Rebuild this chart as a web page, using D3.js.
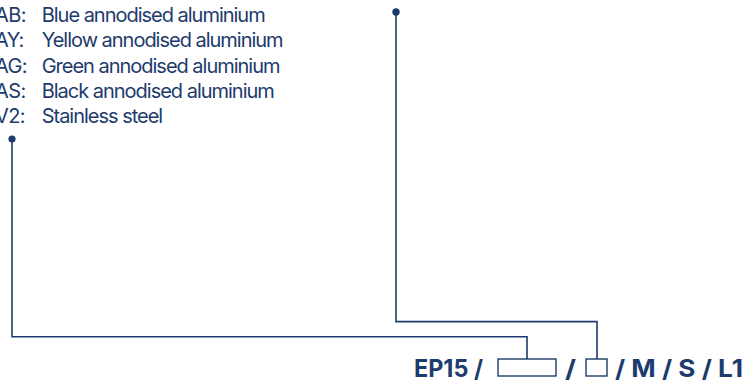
<!DOCTYPE html>
<html>
<head>
<meta charset="utf-8">
<script src="https://cdn.jsdelivr.net/npm/d3@7"></script>
<style>
  html, body { margin: 0; padding: 0; background: #fff; overflow: hidden; }
  svg { display: block; }
</style>
</head>
<body>
<svg id="chart" width="745" height="382"></svg>
<script>
// ---- data ----
const codes = ["AB:", "AY:", "AG:", "AS:", "V2:"];
const descriptions = [
  "Blue annodised aluminium",
  "Yellow annodised aluminium",
  "Green annodised aluminium",
  "Black annodised aluminium",
  "Stainless steel"
];
const codeParts = ["EP15 /", "/", "/ M / S / L1"];

// ---- layout ----
const W = 745, H = 382;
const navy = "#1d3b6c";
const svg = d3.select("#chart");

// rows (baselines) via a point scale
const y = d3.scalePoint().domain(codes).range([21.7, 123.3]);

const legend = svg.append("g").attr("font-family", "Inter, 'Noto Sans', sans-serif")
  .attr("font-size", 20).attr("fill", navy);

legend.selectAll("text.code").data(codes).join("text")
  .attr("class", "code")
  .attr("x", -5).attr("y", d => y(d))
  .attr("letter-spacing", -0.6)
  .text(d => d);

const desc = legend.selectAll("text.desc").data(descriptions).join("text")
  .attr("class", "desc")
  .attr("x", 41.7).attr("y", (d, i) => y(codes[i]))
  .text(d => d);

// tighten letter spacing to match the reference width of first row
const first = desc.node();
const natural = first.getComputedTextLength();
const target = 224;
const ls = (target - natural) / (descriptions[0].length - 1);
desc.attr("letter-spacing", ls);

// ---- connectors ----
const line = d3.line();
const g = svg.append("g").attr("fill", "none").attr("stroke", navy).attr("stroke-width", 1.6);

g.append("path").attr("d", line([[12, 139], [12, 336.7], [527, 336.7], [527, 359]]));
g.append("path").attr("d", line([[396, 12], [396, 321.6], [597, 321.6], [597, 359]]));

svg.append("circle").attr("cx", 12).attr("cy", 139).attr("r", 3.6).attr("fill", navy);
svg.append("circle").attr("cx", 396).attr("cy", 12).attr("r", 3.7).attr("fill", navy);

// boxes
g.append("rect").attr("x", 498).attr("y", 359).attr("width", 58).attr("height", 17).attr("stroke-width", 1.4);
g.append("rect").attr("x", 586).attr("y", 359).attr("width", 21).attr("height", 17).attr("stroke-width", 1.4);

// ---- code text ----
const code = svg.append("g").attr("font-family", "Inter, 'Noto Sans', sans-serif")
  .attr("font-size", 24).attr("font-weight", 700).attr("fill", navy);

const spans = [[414, 483], [565, 576], [615, 743]];
code.selectAll("text").data(codeParts).join("text")
  .attr("x", (d, i) => spans[i][0])
  .attr("y", 376.5)
  .attr("textLength", (d, i) => spans[i][1] - spans[i][0])
  .attr("lengthAdjust", "spacingAndGlyphs")
  .text(d => d);
</script>
</body>
</html>
